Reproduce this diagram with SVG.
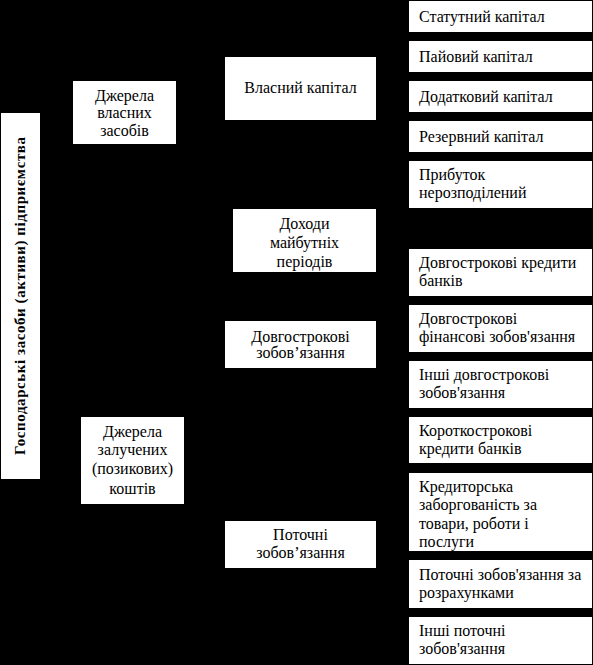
<svg xmlns="http://www.w3.org/2000/svg" width="593" height="665" viewBox="0 0 593 665">
<style>
.b{fill:#fff;stroke:none}
.t{font-family:"Liberation Serif","DejaVu Serif",serif;font-size:16px;fill:#000}
.c{text-anchor:middle}
.h{font-weight:bold;font-size:15px}
</style>
<rect x="0" y="0" width="593" height="665" fill="#000"/>
<g id="connectors"></g>
<g id="root"><rect class="b" x="1" y="113" width="39" height="366"/>
<text class="t h c" transform="translate(25,296) rotate(-90)" textLength="318" lengthAdjust="spacing">Господарські засоби (активи) підприємства</text></g>
<g id="own-src"><rect class="b" x="73" y="81" width="103" height="63"/>
<text class="t c" x="124.5" y="101">Джерела</text><text class="t c" x="124.5" y="118">власних</text><text class="t c" x="124.5" y="136">засобів</text></g>
<g id="borrowed-src"><rect class="b" x="81" y="417" width="103" height="87"/>
<text class="t c" x="132.5" y="437">Джерела</text><text class="t c" x="132.5" y="455">залучених</text><text class="t c" x="132.5" y="474">(позикових)</text><text class="t c" x="132.5" y="494">коштів</text></g>
<g id="equity"><rect class="b" x="225" y="57" width="151" height="63"/>
<text class="t c" x="300.5" y="93">Власний капітал</text></g>
<g id="deferred"><rect class="b" x="233" y="209" width="143" height="63"/>
<text class="t c" x="304.5" y="229">Доходи</text><text class="t c" x="304.5" y="248">майбутніх</text><text class="t c" x="304.5" y="267">періодів</text></g>
<g id="longterm"><rect class="b" x="225" y="321" width="151" height="47"/>
<text class="t c" x="300.5" y="342">Довгострокові</text><text class="t c" x="300.5" y="358">зобов’язання</text></g>
<g id="current"><rect class="b" x="225" y="521" width="151" height="47"/>
<text class="t c" x="300.5" y="540">Поточні</text><text class="t c" x="300.5" y="558">зобов’язання</text></g>
<g id="r1"><rect class="b" x="409" y="1" width="183" height="31"/><text class="t" x="419" y="22">Статутний капітал</text></g>
<g id="r2"><rect class="b" x="409" y="41" width="183" height="31"/><text class="t" x="419" y="62">Пайовий капітал</text></g>
<g id="r3"><rect class="b" x="409" y="81" width="183" height="31"/><text class="t" x="419" y="102">Додатковий капітал</text></g>
<g id="r4"><rect class="b" x="409" y="121" width="183" height="31"/><text class="t" x="419" y="142">Резервний капітал</text></g>
<g id="r5"><rect class="b" x="409" y="161" width="183" height="47"/><text class="t" x="419" y="180">Прибуток</text><text class="t" x="419" y="198">нерозподілений</text></g>
<g id="r6"><rect class="b" x="409" y="249" width="183" height="47"/><text class="t" x="419" y="268">Довгострокові кредити</text><text class="t" x="419" y="286">банків</text></g>
<g id="r7"><rect class="b" x="409" y="305" width="183" height="47"/><text class="t" x="419" y="324">Довгострокові</text><text class="t" x="419" y="342">фінансові зобов'язання</text></g>
<g id="r8"><rect class="b" x="409" y="361" width="183" height="47"/><text class="t" x="419" y="380">Інші довгострокові</text><text class="t" x="419" y="398">зобов'язання</text></g>
<g id="r9"><rect class="b" x="409" y="417" width="183" height="46"/><text class="t" x="419" y="436">Короткострокові</text><text class="t" x="419" y="454">кредити банків</text></g>
<g id="r10"><rect class="b" x="409" y="473" width="183" height="78"/><text class="t" x="419" y="492">Кредиторська</text><text class="t" x="419" y="510">заборгованість за</text><text class="t" x="419" y="529">товари, роботи і</text><text class="t" x="419" y="547">послуги</text></g>
<g id="r11"><rect class="b" x="409" y="560" width="183" height="48"/><text class="t" x="419" y="580">Поточні зобов'язання за</text><text class="t" x="419" y="598">розрахунками</text></g>
<g id="r12"><rect class="b" x="409" y="617" width="183" height="47"/><text class="t" x="419" y="636">Інші поточні</text><text class="t" x="419" y="654">зобов'язання</text></g>
</svg>
